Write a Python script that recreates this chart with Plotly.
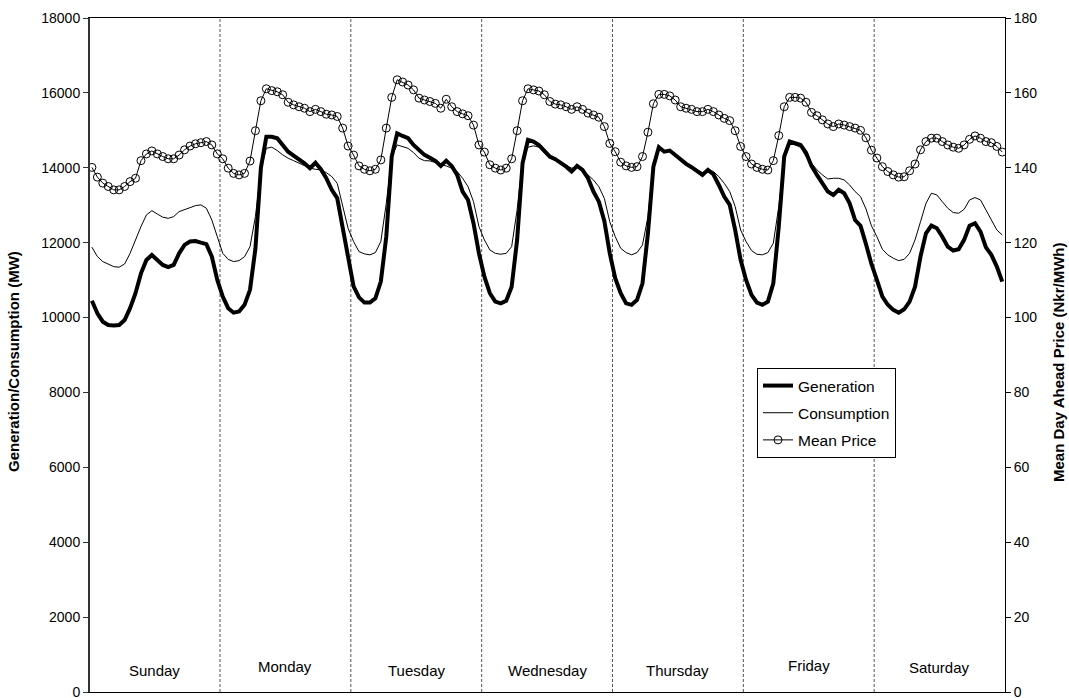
import plotly.graph_objects as go

# Hourly series over one week (hour 0 = Sunday 00:00)
days = ["Sunday", "Monday", "Tuesday", "Wednesday", "Thursday", "Friday", "Saturday"]

generation = [
    # Sunday
    10450, 10115, 9890, 9800, 9785, 9800, 9935, 10250, 10650, 11180, 11540, 11670,
    11540, 11405, 11345, 11405, 11715, 11940, 12030, 12045, 12000, 11960, 11630, 11005,
    # Monday
    10560, 10250, 10130, 10160, 10340, 10740, 11850, 14000, 14830, 14830, 14790, 14610,
    14430, 14325, 14235, 14120, 13990, 14135, 13960, 13720, 13410, 13190, 12400, 11600,
    # Tuesday
    10830, 10540, 10400, 10400, 10515, 10960, 12160, 14300, 14920, 14850, 14790, 14610,
    14480, 14345, 14270, 14185, 14050, 14190, 14050, 13810, 13365, 13140, 12520, 11715,
    # Wednesday
    11090, 10650, 10425, 10380, 10450, 10825, 12070, 14120, 14745, 14700, 14610, 14460,
    14300, 14230, 14140, 14030, 13900, 14050, 13945, 13720, 13365, 13095, 12580, 11715,
    # Thursday
    11050, 10650, 10380, 10340, 10470, 10915, 12250, 14030, 14550, 14430, 14460, 14345,
    14210, 14105, 14015, 13915, 13810, 13945, 13825, 13540, 13230, 13010, 12340, 11540,
    # Friday
    11005, 10605, 10400, 10340, 10425, 10915, 12430, 14300, 14700, 14655, 14610, 14405,
    14050, 13810, 13585, 13365, 13275, 13410, 13320, 13050, 12605, 12450, 11960, 11430,
    # Saturday
    11005, 10560, 10340, 10205, 10130, 10220, 10425, 10825, 11630, 12250, 12455, 12385,
    12160, 11895, 11790, 11825, 12075, 12455, 12520, 12295, 11875, 11675, 11360, 10960,
]

consumption = [
    # Sunday
    11880, 11630, 11495, 11430, 11360, 11345, 11430, 11715, 12075, 12430, 12740, 12855,
    12765, 12680, 12650, 12695, 12830, 12875, 12935, 12990, 13010, 12920, 12605, 12160,
    # Monday
    11715, 11555, 11495, 11520, 11625, 11895, 12700, 13945, 14520, 14550, 14460, 14345,
    14255, 14190, 14120, 14050, 13990, 13960, 13945, 13870, 13765, 13585, 12960, 12380,
    # Tuesday
    12030, 11760, 11700, 11675, 11735, 12030, 13050, 14300, 14610, 14565, 14520, 14405,
    14255, 14190, 14185, 14140, 14075, 14050, 13990, 13900, 13720, 13495, 13095, 12430,
    # Wednesday
    12075, 11805, 11715, 11690, 11715, 11895, 12875, 14210, 14550, 14585, 14550, 14390,
    14255, 14210, 14140, 14050, 13990, 14015, 13945, 13810, 13675, 13495, 13185, 12560,
    # Thursday
    12160, 11850, 11735, 11675, 11735, 11940, 12695, 14120, 14550, 14460, 14460, 14345,
    14190, 14105, 14030, 13945, 13870, 13945, 13900, 13765, 13585, 13365, 12965, 12340,
    # Friday
    12030, 11790, 11690, 11675, 11735, 11985, 12965, 14300, 14655, 14610, 14550, 14300,
    14120, 13945, 13810, 13700, 13720, 13720, 13675, 13540, 13365, 13230, 12900, 12450,
    # Saturday
    12160, 11825, 11675, 11585, 11520, 11555, 11715, 12075, 12560, 13050, 13320, 13275,
    13095, 12920, 12805, 12785, 12890, 13140, 13205, 13140, 12875, 12605, 12340, 12205,
]

mean_price = [
    # Sunday
    140.1, 137.5, 135.9, 135.0, 134.1, 134.1, 135.0, 136.3, 137.2, 141.9, 143.7, 144.5,
    143.7, 143.0, 142.4, 142.4, 143.4, 144.8, 145.8, 146.4, 146.7, 147.0, 146.1, 143.7,
    # Monday
    142.4, 139.9, 138.5, 138.1, 138.5, 141.8, 149.9, 157.9, 161.1, 160.6, 160.3, 159.5,
    157.5, 156.8, 156.3, 155.9, 155.0, 155.6, 155.0, 154.3, 154.1, 153.7, 150.6, 145.8,
    # Tuesday
    143.4, 140.5, 139.6, 139.2, 139.6, 142.1, 150.6, 158.8, 163.5, 162.9, 162.1, 160.8,
    158.6, 158.1, 157.7, 157.2, 155.9, 158.3, 156.3, 155.0, 154.4, 153.9, 151.4, 146.1,
    # Wednesday
    144.2, 140.8, 139.9, 139.4, 139.9, 142.4, 149.9, 157.9, 161.1, 160.8, 160.5, 159.5,
    157.7, 157.0, 156.8, 156.3, 155.6, 156.3, 155.6, 154.6, 154.1, 153.5, 151.0, 146.5,
    # Thursday
    144.3, 141.5, 140.5, 140.1, 140.3, 143.0, 149.5, 157.1, 159.6, 159.6, 159.2, 158.1,
    156.3, 155.9, 155.6, 155.0, 155.0, 155.6, 155.0, 154.1, 153.2, 152.6, 149.9, 145.7,
    # Friday
    143.0, 141.0, 140.1, 139.6, 139.4, 141.9, 148.6, 156.3, 158.8, 158.8, 158.6, 157.5,
    154.8, 153.9, 152.8, 151.7, 151.0, 151.7, 151.4, 151.0, 150.6, 150.0, 148.0, 144.7,
    # Saturday
    142.6, 140.3, 139.0, 138.1, 137.5, 137.6, 139.2, 141.0, 144.8, 147.0, 147.9, 147.9,
    147.0, 146.1, 145.5, 145.2, 146.1, 147.6, 148.5, 147.9, 147.0, 146.7, 145.7, 144.2,
]

left_ticks = list(range(0, 18001, 2000))
right_ticks = list(range(0, 181, 20))

hours = list(range(len(generation)))
hours_per_day = 24

FONT = "Liberation Sans, Arial, sans-serif"

# Plot-area geometry in pixels (used to place the paper-referenced items)
PLOT_L, PLOT_R, PLOT_T, PLOT_B = 90, 1005, 18, 692
PLOT_W, PLOT_H = PLOT_R - PLOT_L, PLOT_B - PLOT_T


def px_x(px):
    return (px - PLOT_L) / PLOT_W


def px_y(py):
    return (PLOT_B - py) / PLOT_H


fig = go.Figure()

fig.add_trace(go.Scatter(
    x=hours, y=generation, name="Generation", mode="lines", legendgroup="g",
    line=dict(color="black", width=4),
))
fig.add_trace(go.Scatter(
    x=hours, y=consumption, name="Consumption", mode="lines", legendgroup="c",
    line=dict(color="black", width=1),
))
fig.add_trace(go.Scatter(
    x=hours, y=mean_price, name="Mean Price", mode="lines+markers", legendgroup="p",
    line=dict(color="black", width=1),
    marker=dict(symbol="circle-open", size=8, color="black", line=dict(width=1)),
    yaxis="y2",
))

# Dashed separators between days
shapes = []
for d in range(1, len(days)):
    xb = d * hours_per_day - 0.5
    shapes.append(dict(
        type="line", xref="x", yref="paper", x0=xb, x1=xb, y0=0, y1=1,
        line=dict(color="#555555", width=1, dash="3px,2px"),
        layer="below",
    ))

# Day names along the bottom of each day block
day_label_y = [670, 666, 670, 670, 670, 665, 667]
annotations = []
for d, name in enumerate(days):
    xc = d * hours_per_day + (hours_per_day - 1) / 2
    annotations.append(dict(
        x=xc, xref="x", y=px_y(day_label_y[d]), yref="paper",
        text=name, showarrow=False, xanchor="center", yanchor="middle",
        font=dict(family=FONT, size=15, color="black"),
    ))

# Axis titles
annotations.append(dict(
    x=px_x(13), xref="paper", y=px_y(362), yref="paper",
    text="<b>Generation/Consumption (MW)</b>", textangle=-90, showarrow=False,
    xanchor="center", yanchor="middle", font=dict(family=FONT, size=15, color="black"),
))
annotations.append(dict(
    x=px_x(1058), xref="paper", y=px_y(362), yref="paper",
    text="<b>Mean Day Ahead Price (Nkr/MWh)</b>", textangle=-90, showarrow=False,
    xanchor="center", yanchor="middle", font=dict(family=FONT, size=15, color="black"),
))

fig.update_layout(
    width=1069, height=698,
    margin=dict(l=PLOT_L, r=1069 - PLOT_R, t=PLOT_T, b=698 - PLOT_B),
    paper_bgcolor="white", plot_bgcolor="white",
    font=dict(family=FONT, size=14, color="black"),
    showlegend=True,
    legend=dict(
        x=px_x(757), y=px_y(368), xanchor="left", yanchor="top",
        bgcolor="white", bordercolor="black", borderwidth=1,
        font=dict(family=FONT, size=15.5, color="black"),
        tracegroupgap=4, itemwidth=30,
    ),
    xaxis=dict(
        range=[-0.35, 167.5], showgrid=False, zeroline=False, automargin=False,
        showticklabels=False, ticks="",
        showline=True, linecolor="black", linewidth=1, mirror=True,
    ),
    yaxis=dict(
        range=[0, 18000], tickmode="array", tickvals=left_ticks,
        ticktext=[str(v) for v in left_ticks], automargin=False,
        showgrid=False, zeroline=False, ticklabeloverflow="allow",
        ticks="outside", ticklen=5, tickcolor="#333333", tickwidth=1,
        showline=True, linecolor="#333333", linewidth=2,
        tickfont=dict(family=FONT, size=14),
    ),
    yaxis2=dict(
        range=[0, 180], tickmode="array", tickvals=right_ticks,
        ticktext=[str(v) for v in right_ticks], automargin=False,
        overlaying="y", side="right", ticklabeloverflow="allow",
        showgrid=False, zeroline=False,
        ticks="outside", ticklen=5, tickcolor="black", tickwidth=1,
        showline=True, linecolor="black", linewidth=1,
        tickfont=dict(family=FONT, size=14),
    ),
    shapes=shapes,
    annotations=annotations,
)

fig.write_html("out.html")
